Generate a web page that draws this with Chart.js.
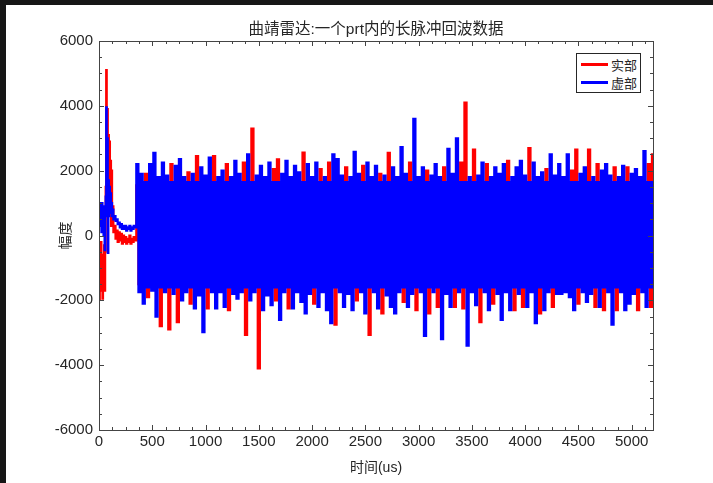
<!DOCTYPE html>
<html>
<head>
<meta charset="utf-8">
<script src="https://cdn.jsdelivr.net/npm/chart.js@4.4.1/dist/chart.umd.min.js"></script>
<style>
  html, body { margin: 0; padding: 0; background: #fff; }
  #wrap { position: relative; width: 713px; height: 483px; }
  #legend {
    position: absolute; left: 576px; top: 53px; width: 63px; height: 38px;
    border: 1px solid #262626; background: #fff;
    font: 13px 'Noto Sans CJK SC', sans-serif; color: #262626;
  }
  #legend .item { position: absolute; left: 4px; height: 18px; display: flex; align-items: center; }
  #legend .swatch { width: 27px; height: 3px; margin-right: 3px; }
</style>
</head>
<body>
<div id="wrap">
  <canvas id="echo" width="713" height="483"></canvas>
  <div id="legend"></div>
</div>
<script>
// echo of one prt: slow start (0-340us) then the dense part sampled every 20us
const headTimeUs = [0, 5, 10, 15, 20, 25, 30, 35, 40, 45, 50, 55, 60, 65, 70, 75, 80, 85, 90, 95,
  100, 105, 110, 115, 120, 125, 130, 140, 150, 160, 170, 180, 190, 200, 210, 220, 230, 240, 250,
  260, 270, 280, 290, 300, 310, 320, 330, 340];
const headReal = [-300, -1990, -400, -1500, -200, -1700, -600, -1950, -800, -1400, -300, -1700, -500, 1500, 5100, 2500, 3900, 2000, 3100, 1600,
  2900, 1200, 2300, 300, 2000, 400, 900, 100, 300, -100, 150, -200, 100, -150, 50, -250, 0, -200, -50,
  -250, -100, -200, 0, -250, -100, -200, -50, -150];
const headImag = [900, 300, 1000, 500, 800, 100, 1000, 400, 900, 0, 700, -450, 600, 1200, 3950, 1800, 3000, -540, 1700, 600,
  1500, 900, 1300, 700, 1000, 600, 800, 500, 600, 450, 500, 350, 400, 250, 350, 200, 300, 200, 300,
  150, 250, 200, 300, 150, 250, 200, 300, 250];

const bodyStartUs = 360;
const bodyStepUs = 20;
const bodyReal = [
  1550, -1500, 1500, -1550, 1900, -1900, 1550, -1500, 1550, -1550,
  1500, -2800, 1550, -1500, 1500, -2900, 2200, -1500, 1550, -2670,
  1550, -1550, 1500, -1500, 1950, -2100, 1500, -1550, 2450, -1500,
  1550, -1550, 1500, -2250, 1550, -1500, 2450, -1550, 1500, -1500,
  1550, -1550, 2200, -2300, 1500, -1500, 1550, -1550, 1500, -1500,
  2250, -3070, 1550, -1550, 3300, -1500, 1500, -4100, 1550, -1550,
  1500, -1500, 1550, -1550, 2050, -2000, 2350, -1550, 1500, -1500,
  1550, -2250, 1500, -1550, 1550, -1500, 1500, -1550, 2560, -1550,
  1550, -1500, 1500, -2100, 1550, -1550, 2050, -1500, 1500, -1550,
  2250, -1550, 1550, -2750, 1550, -1500, 1500, -1550, 2100, -1500,
  1500, -1550, 1550, -2000, 1500, -1500, 2150, -1550, 1550, -3070,
  1500, -1500, 1550, -1550, 1900, -2400, 1500, -1500, 2550, -1550,
  1550, -1550, 1500, -1500, 1550, -2050, 1500, -1550, 2250, -1500,
  1550, -2300, 1500, -1500, 1550, -1550, 2000, -2400, 1500, -1500,
  1550, -2200, 1500, -1550, 2100, -1500, 1550, -1550, 1500, -2200,
  1550, -1500, 2250, -2250, 4100, -1550, 1500, -1500, 2650, -1550,
  1500, -2670, 1550, -1500, 2200, -1550, 1500, -2100, 1550, -1500,
  1500, -1550, 1550, -1500, 2300, -1550, 1500, -2300, 1550, -1500,
  1550, -2200, 1500, -1550, 2700, -1500, 1550, -1550, 1500, -2400,
  1550, -1550, 2050, -1500, 1550, -2200, 1500, -1500, 1550, -1550,
  1500, -1500, 1550, -1550, 2000, -1550, 2650, -2100, 1500, -1500,
  1550, -1550, 2650, -1500, 1500, -2200, 2200, -1550, 1550, -2300,
  1550, -1500, 1500, -1550, 2100, -2300, 1500, -1500, 1550, -1550,
  2100, -1550, 1500, -1500, 1550, -2300, 1500, -1500, 1550, -1550,
  2200, -2200, 2500
];
const bodyImag = [
  2200, -1750, 1900, -2100, 1650, -1600, 2200, -1700, 2550, -2500,
  1800, -1600, 2250, -1750, 1850, -1600, 1650, -1800, 2150, -1600,
  2360, -2000, 1800, -1750, 1650, -1600, 1900, -2250, 1650, -1850,
  2100, -2980, 1850, -1600, 2400, -1750, 1650, -2250, 1800, -1750,
  2000, -2200, 1650, -1600, 1800, -1800, 2300, -1950, 1900, -1750,
  1650, -1600, 2500, -2000, 1650, -1750, 1850, -1600, 2150, -2300,
  1800, -1850, 2250, -2150, 1650, -1600, 1650, -2600, 1900, -1750,
  2300, -1600, 1800, -2250, 2150, -1750, 1950, -2050, 1650, -2400,
  2200, -1800, 1800, -1600, 2250, -2200, 1650, -1750, 1800, -2300,
  1650, -2700, 2500, -1600, 2360, -1750, 1850, -2200, 1650, -1800,
  1800, -2300, 2580, -1600, 1900, -1750, 1650, -2400, 2250, -1600,
  1800, -1750, 2150, -2250, 1650, -1600, 1850, -1850, 1650, -2200,
  2100, -2400, 1800, -1750, 2730, -1600, 1900, -2200, 1650, -1800,
  3600, -1600, 1800, -1750, 2100, -3100, 1650, -1600, 1850, -1750,
  2200, -1600, 1800, -3200, 1650, -1800, 2670, -2200, 1900, -1600,
  3000, -1750, 1650, -1600, 1650, -3400, 1800, -1750, 1650, -2150,
  1850, -1600, 2250, -1750, 1650, -2300, 1800, -1600, 2100, -1800,
  1900, -2600, 2200, -1750, 1650, -2300, 1800, -1600, 2100, -1800,
  2300, -1600, 1850, -2200, 1650, -1750, 2250, -2700, 1800, -1600,
  1950, -2300, 1650, -1750, 2500, -1600, 1850, -1800, 2200, -1800,
  1800, -1750, 2500, -1900, 1650, -2300, 1650, -1600, 1900, -1750,
  2100, -2050, 1650, -1800, 1800, -1600, 1650, -2200, 2000, -1600,
  2200, -1750, 1850, -2750, 1650, -1600, 1800, -1750, 2150, -2300,
  1650, -2100, 1900, -1800, 2050, -1600, 1800, -1750, 2600, -2200,
  1650, -1600, 1650
];

const seriesNames = ['实部', '虚部'];
const seriesColors = ['#ff0000', '#0000ff'];
const xMax = 5200, xMajor = 500, xMinor = 125;
const yMin = -6000, yMax = 6000, yMajor = 2000, yMinor = 500;

function toPoints(head, body) {
  const pts = headTimeUs.map((t, i) => ({ x: t, y: head[i] }));
  body.forEach((v, i) => pts.push({ x: bodyStartUs + i * bodyStepUs, y: v }));
  return pts;
}

const textColor = '#262626';
Chart.defaults.font.family = "'Liberation Sans', 'Noto Sans CJK SC', sans-serif";
Chart.defaults.color = textColor;

// white page with the dark strips of the screenshot, then a MATLAB-like box with inward ticks
const matlabBox = {
  id: 'matlabBox',
  beforeDraw(chart) {
    const c = chart.ctx;
    c.save();
    c.fillStyle = '#fff';
    c.fillRect(0, 0, chart.width, chart.height);
    c.fillStyle = '#161616';
    c.fillRect(0, 0, chart.width, 5);
    c.fillRect(0, 0, 6, chart.height);
    c.restore();
  },
  afterDatasetsDraw(chart) {
    const { ctx, chartArea: a, scales: { x, y } } = chart;
    ctx.save();
    ctx.strokeStyle = '#444';
    ctx.lineWidth = 1;
    ctx.beginPath();
    x.ticks.forEach(t => {
      const px = Math.round(x.getPixelForValue(t.value)) + 0.5;
      const len = t.value % xMajor === 0 ? 5 : 3;
      ctx.moveTo(px, a.bottom); ctx.lineTo(px, a.bottom - len);
      ctx.moveTo(px, a.top); ctx.lineTo(px, a.top + len);
    });
    y.ticks.forEach(t => {
      const py = Math.round(y.getPixelForValue(t.value)) + 0.5;
      const len = t.value % yMajor === 0 ? 5 : 3;
      ctx.moveTo(a.left, py); ctx.lineTo(a.left + len, py);
      ctx.moveTo(a.right, py); ctx.lineTo(a.right - len, py);
    });
    ctx.stroke();
    ctx.strokeRect(Math.round(a.left) + 0.5, Math.round(a.top) + 0.5,
      Math.round(a.right - a.left), Math.round(a.bottom - a.top));
    ctx.restore();
  }
};

const chart = new Chart(document.getElementById('echo'), {
  type: 'line',
  data: {
    datasets: [
      { label: seriesNames[0], data: toPoints(headReal, bodyReal), borderColor: seriesColors[0], order: 1 },
      { label: seriesNames[1], data: toPoints(headImag, bodyImag), borderColor: seriesColors[1], order: 0 }
    ]
  },
  options: {
    responsive: false,
    animation: false,
    parsing: false,
    normalized: true,
    datasets: { line: { borderWidth: 2.2, pointRadius: 0, tension: 0, stepped: 'middle', borderJoinStyle: 'miter' } },
    layout: { padding: { left: 0, right: 60, top: 0, bottom: 0 } },
    plugins: {
      legend: { display: false },
      tooltip: { enabled: false },
      title: {
        display: true,
        fullSize: false,
        text: '曲靖雷达:一个prt内的长脉冲回波数据',
        font: { size: 15.5, weight: 'normal' },
        color: textColor,
        padding: { top: 20, bottom: 2.4 }
      }
    },
    scales: {
      x: {
        type: 'linear', min: 0, max: xMax,
        grid: { display: false, drawTicks: false },
        border: { display: false },
        ticks: {
          stepSize: xMinor, autoSkip: false, maxRotation: 0, includeBounds: false,
          padding: 3, font: { size: 15 },
          callback: v => (v % xMajor === 0 ? String(v) : '')
        },
        title: { display: true, text: '时间(us)', font: { size: 14 }, padding: { top: 0, bottom: 6 } },
        afterFit: s => { s.height = 53; }
      },
      y: {
        type: 'linear', min: yMin, max: yMax,
        grid: { display: false, drawTicks: false },
        border: { display: false },
        ticks: {
          stepSize: yMinor, autoSkip: false, padding: 6, font: { size: 15 },
          callback: v => (v % yMajor === 0 ? String(v) : '')
        },
        title: { display: true, text: '幅度', font: { size: 14 }, padding: { top: 58, bottom: 0 } },
        afterFit: s => { s.width = 99; }
      }
    }
  },
  plugins: [matlabBox]
});

// legend box inside the axes, built from the datasets
const legendEl = document.getElementById('legend');
chart.data.datasets.forEach((ds, i) => {
  const row = document.createElement('div');
  row.className = 'item';
  row.style.top = (1 + i * 18) + 'px';
  const sw = document.createElement('span');
  sw.className = 'swatch';
  sw.style.background = ds.borderColor;
  const label = document.createElement('span');
  label.textContent = ds.label;
  row.appendChild(sw);
  row.appendChild(label);
  legendEl.appendChild(row);
});
</script>
</body>
</html>
